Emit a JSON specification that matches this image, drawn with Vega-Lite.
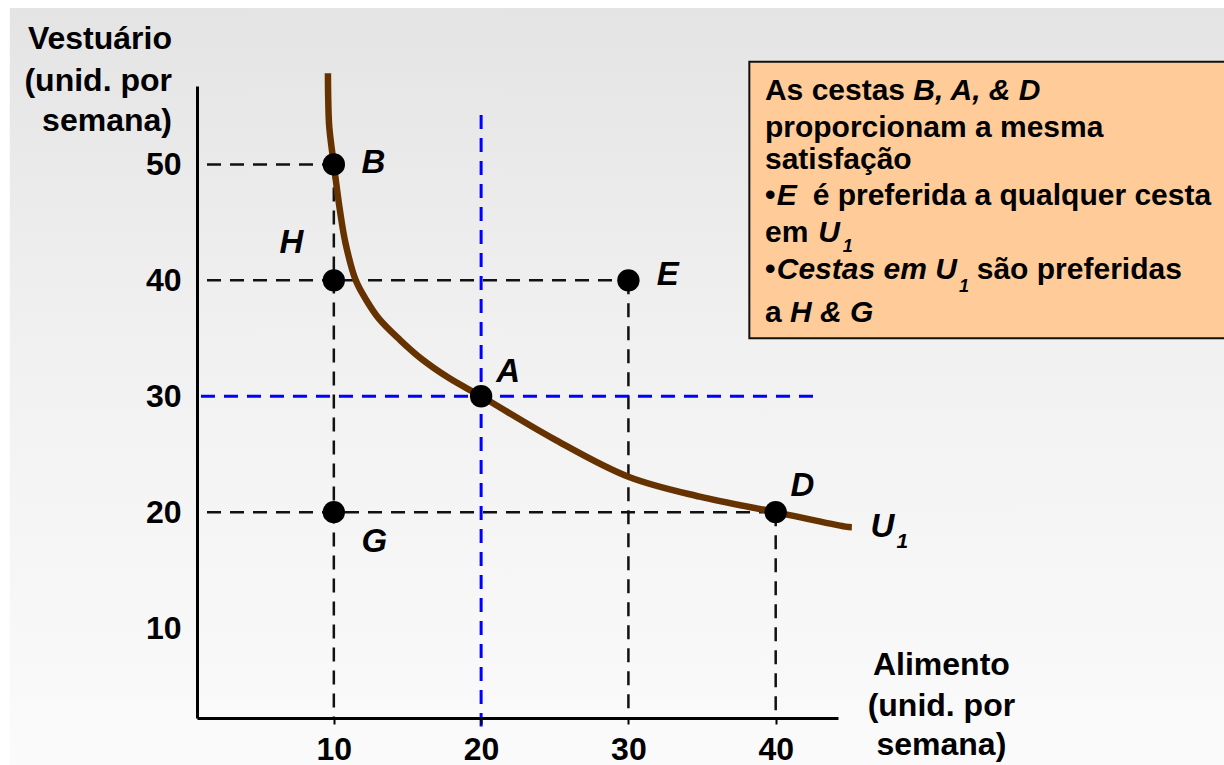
{
  "$schema": "https://vega.github.io/schema/vega-lite/v6.json",
  "autosize": {"type": "none"},
  "padding": {"left": 197, "top": 86, "right": 386, "bottom": 47},
  "width": 641,
  "height": 632,
  "background": "white",
  "config": {
    "view": {"stroke": null},
    "text": {"font": "Liberation Sans", "fontWeight": "bold", "color": "black"}
  },
  "datasets": {
    "curve": [
      {"food": 9.60, "clothing": 57.87},
      {"food": 9.62, "clothing": 55.57},
      {"food": 9.69, "clothing": 53.24},
      {"food": 10.0, "clothing": 50.0},
      {"food": 10.41, "clothing": 46.07},
      {"food": 10.79, "clothing": 43.23},
      {"food": 11.48, "clothing": 40.03},
      {"food": 12.20, "clothing": 38.31},
      {"food": 13.06, "clothing": 36.70},
      {"food": 14.50, "clothing": 34.85},
      {"food": 15.93, "clothing": 33.25},
      {"food": 17.85, "clothing": 31.55},
      {"food": 20.0, "clothing": 30.0},
      {"food": 24.89, "clothing": 26.35},
      {"food": 30.0, "clothing": 23.06},
      {"food": 34.84, "clothing": 21.34},
      {"food": 40.0, "clothing": 20.0},
      {"food": 44.73, "clothing": 18.75},
      {"food": 45.17, "clothing": 18.70}
    ],
    "points": [
      {"name": "B", "food": 10, "clothing": 50, "lx": 11.88, "ly": 49.24},
      {"name": "H", "food": 10, "clothing": 40, "lx": 6.31, "ly": 42.39},
      {"name": "E", "food": 30, "clothing": 40, "lx": 31.92, "ly": 39.57},
      {"name": "A", "food": 20, "clothing": 30, "lx": 21.02, "ly": 31.23},
      {"name": "G", "food": 10, "clothing": 20, "lx": 11.88, "ly": 16.52},
      {"name": "D", "food": 40, "clothing": 20, "lx": 41.0, "ly": 21.38}
    ],
    "blackLines": [
      {"x1": 1.39, "x2": 10, "y1": 50, "y2": 50},
      {"x1": 1.39, "x2": 30, "y1": 40, "y2": 40},
      {"x1": 1.39, "x2": 40, "y1": 20, "y2": 20},
      {"x1": 10, "x2": 10, "y1": 50, "y2": 2.24},
      {"x1": 30, "x2": 30, "y1": 40, "y2": 2.24},
      {"x1": 40, "x2": 40, "y1": 20, "y2": 2.24}
    ],
    "blueLines": [
      {"x1": 20, "x2": 20, "y1": 54.27, "y2": 1.5},
      {"x1": 0.98, "x2": 42.78, "y1": 30, "y2": 30}
    ],
    "boxNormal": [
      {"x": 39.27, "y": 55.57, "t": "As cestas"},
      {"x": 39.27, "y": 52.35, "t": "proporcionam a mesma"},
      {"x": 39.27, "y": 49.57, "t": "satisfação"},
      {"x": 39.27, "y": 46.46, "t": "•"},
      {"x": 42.51, "y": 46.46, "t": "é preferida a qualquer cesta"},
      {"x": 39.27, "y": 43.29, "t": "em"},
      {"x": 39.27, "y": 40.16, "t": "•"},
      {"x": 53.65, "y": 40.16, "t": "são preferidas"},
      {"x": 39.27, "y": 36.44, "t": "a"}
    ],
    "boxItalic": [
      {"x": 49.34, "y": 55.57, "t": "B, A, & D"},
      {"x": 40.07, "y": 46.46, "t": "E"},
      {"x": 42.89, "y": 43.29, "t": "U"},
      {"x": 40.07, "y": 40.16, "t": "Cestas em U"},
      {"x": 40.97, "y": 36.44, "t": "H & G"}
    ],
    "boxSub": [
      {"x": 44.55, "y": 42.45, "t": "1"},
      {"x": 52.45, "y": 39.03, "t": "1"}
    ],
    "yTitle": [
      {"x": -0.99, "y": 59.94, "t": "Vestuário"},
      {"x": -0.99, "y": 56.37, "t": "(unid. por"},
      {"x": -0.99, "y": 52.92, "t": "semana)"}
    ],
    "xTitle": [
      {"x": 51.25, "y": 5.95, "t": "Alimento"},
      {"x": 51.25, "y": 2.42, "t": "(unid. por"},
      {"x": 51.25, "y": -0.95, "t": "semana)"}
    ]
  },
  "layer": [
    {
      "data": {"values": [{"x1": -12, "x2": 72, "y1": 63.5, "y2": -3}]},
      "mark": {
        "type": "rect",
        "fill": {
          "gradient": "linear",
          "x1": 0, "y1": 0, "x2": 0, "y2": 1,
          "stops": [
            {"offset": 0, "color": "#e4e4e4"},
            {"offset": 0.45, "color": "#f1f1f1"},
            {"offset": 1, "color": "#fbfbfb"}
          ]
        }
      },
      "encoding": {
        "x": {"field": "x1", "type": "quantitative", "scale": {"domain": [0.71, 44.23], "nice": false, "zero": false},
          "axis": {"values": [10, 20, 30, 40], "title": null, "grid": false, "zindex": 1,
            "labelFont": "Liberation Sans", "labelFontSize": 32, "labelFontWeight": "bold", "labelColor": "black",
            "domainColor": "black", "domainWidth": 3, "tickColor": "black", "tickSize": 6, "tickWidth": 2, "labelPadding": 10}},
        "x2": {"field": "x2"},
        "y": {"field": "y1", "type": "quantitative", "scale": {"domain": [2.24, 56.77], "nice": false, "zero": false},
          "axis": {"values": [10, 20, 30, 40, 50], "title": null, "grid": false, "zindex": 1, "ticks": false,
            "labelFont": "Liberation Sans", "labelFontSize": 32, "labelFontWeight": "bold", "labelColor": "black",
            "domainColor": "black", "domainWidth": 3, "labelPadding": 16}},
        "y2": {"field": "y2"}
      }
    },
    {
      "data": {"values": [{"x1": 38.21, "x2": 76, "y1": 58.87, "y2": 35.0}]},
      "mark": {"type": "rect", "fill": "#ffcc99", "stroke": "#111111", "strokeWidth": 2},
      "encoding": {
        "x": {"field": "x1", "type": "quantitative"},
        "x2": {"field": "x2"},
        "y": {"field": "y1", "type": "quantitative"},
        "y2": {"field": "y2"}
      }
    },
    {
      "data": {"name": "blackLines"},
      "mark": {"type": "rule", "color": "#111111", "strokeWidth": 2.5, "strokeDash": [14, 9]},
      "encoding": {
        "x": {"field": "x1", "type": "quantitative"},
        "x2": {"field": "x2"},
        "y": {"field": "y1", "type": "quantitative"},
        "y2": {"field": "y2"}
      }
    },
    {
      "data": {"name": "blueLines"},
      "mark": {"type": "rule", "color": "#0000ff", "strokeWidth": 3, "strokeDash": [14, 9]},
      "encoding": {
        "x": {"field": "x1", "type": "quantitative"},
        "x2": {"field": "x2"},
        "y": {"field": "y1", "type": "quantitative"},
        "y2": {"field": "y2"}
      }
    },
    {
      "data": {"name": "curve"},
      "mark": {"type": "line", "color": "#663300", "strokeWidth": 6.5, "interpolate": "catmull-rom", "strokeCap": "butt"},
      "encoding": {
        "x": {"field": "food", "type": "quantitative"},
        "y": {"field": "clothing", "type": "quantitative"}
      }
    },
    {
      "data": {"name": "points"},
      "mark": {"type": "circle", "color": "black", "opacity": 1, "size": 500},
      "encoding": {
        "x": {"field": "food", "type": "quantitative"},
        "y": {"field": "clothing", "type": "quantitative"}
      }
    },
    {
      "data": {"name": "points"},
      "mark": {"type": "text", "fontSize": 33, "fontStyle": "italic", "align": "left", "baseline": "alphabetic"},
      "encoding": {
        "x": {"field": "lx", "type": "quantitative"},
        "y": {"field": "ly", "type": "quantitative"},
        "text": {"field": "name"}
      }
    },
    {
      "data": {"values": [{"x": 46.43, "y": 17.82, "t": "U"}]},
      "mark": {"type": "text", "fontSize": 33, "fontStyle": "italic", "align": "left", "baseline": "alphabetic"},
      "encoding": {
        "x": {"field": "x", "type": "quantitative"},
        "y": {"field": "y", "type": "quantitative"},
        "text": {"field": "t"}
      }
    },
    {
      "data": {"values": [{"x": 48.2, "y": 16.95, "t": "1"}]},
      "mark": {"type": "text", "fontSize": 21, "fontStyle": "italic", "align": "left", "baseline": "alphabetic"},
      "encoding": {
        "x": {"field": "x", "type": "quantitative"},
        "y": {"field": "y", "type": "quantitative"},
        "text": {"field": "t"}
      }
    },
    {
      "data": {"name": "boxNormal"},
      "mark": {"type": "text", "fontSize": 30, "align": "left", "baseline": "alphabetic"},
      "encoding": {
        "x": {"field": "x", "type": "quantitative"},
        "y": {"field": "y", "type": "quantitative"},
        "text": {"field": "t"}
      }
    },
    {
      "data": {"name": "boxItalic"},
      "mark": {"type": "text", "fontSize": 30, "fontStyle": "italic", "align": "left", "baseline": "alphabetic"},
      "encoding": {
        "x": {"field": "x", "type": "quantitative"},
        "y": {"field": "y", "type": "quantitative"},
        "text": {"field": "t"}
      }
    },
    {
      "data": {"name": "boxSub"},
      "mark": {"type": "text", "fontSize": 18, "fontStyle": "italic", "align": "left", "baseline": "alphabetic"},
      "encoding": {
        "x": {"field": "x", "type": "quantitative"},
        "y": {"field": "y", "type": "quantitative"},
        "text": {"field": "t"}
      }
    },
    {
      "data": {"name": "yTitle"},
      "mark": {"type": "text", "fontSize": 32, "align": "right", "baseline": "alphabetic"},
      "encoding": {
        "x": {"field": "x", "type": "quantitative"},
        "y": {"field": "y", "type": "quantitative"},
        "text": {"field": "t"}
      }
    },
    {
      "data": {"name": "xTitle"},
      "mark": {"type": "text", "fontSize": 32, "align": "center", "baseline": "alphabetic"},
      "encoding": {
        "x": {"field": "x", "type": "quantitative"},
        "y": {"field": "y", "type": "quantitative"},
        "text": {"field": "t"}
      }
    }
  ]
}
